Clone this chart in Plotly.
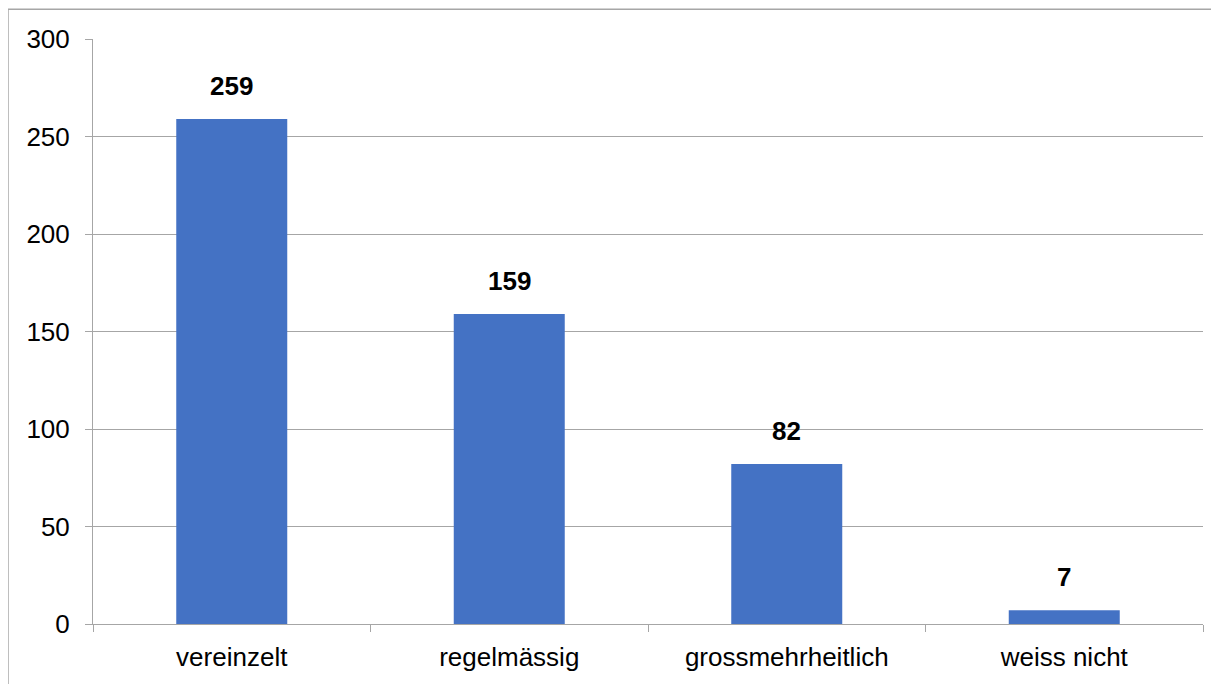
import plotly.graph_objects as go

categories = ["vereinzelt", "regelmässig", "grossmehrheitlich", "weiss nicht"]
values = [259, 159, 82, 7]
y_ticks = [0, 50, 100, 150, 200, 250, 300]

grey = "#a6a6a6"
font = "Liberation Sans, Arial, sans-serif"

fig = go.Figure()
fig.add_trace(go.Bar(x=categories, y=values, marker_color="#4472C4",
                     marker_line_width=0))

# value labels above the bars
for c, v in zip(categories, values):
    fig.add_annotation(x=c, y=v, text="<b>%d</b>" % v, showarrow=False,
                       yanchor="bottom", yshift=16,
                       font=dict(family=font, size=26, color="black"))

# outer frame of the chart area
fig.add_shape(type="rect", xref="paper", yref="paper",
              x0=-0.0766, x1=1.2, y0=-0.3, y1=1.051,
              line=dict(color=grey, width=1.5), layer="below")

# page body adds an 8px offset, so the figure is shrunk by that much
fig.update_layout(
    width=1211, height=676,
    margin=dict(l=85, r=16, t=31, b=57),
    plot_bgcolor="white", paper_bgcolor="white",
    bargap=0.6, showlegend=False,
    font=dict(family=font, size=26, color="black"),
)
fig.update_xaxes(type="category", showline=True, linecolor=grey, linewidth=1,
                 ticks="outside", tickson="boundaries", ticklen=7,
                 tickcolor=grey, showgrid=False, ticklabelstandoff=10)
fig.update_yaxes(range=[0, 300], tickvals=y_ticks, showline=True,
                 linecolor=grey, linewidth=1, ticks="outside", ticklen=7,
                 tickcolor=grey, showgrid=True, gridcolor=grey, gridwidth=1,
                 zeroline=False, ticklabelstandoff=10)

fig.write_html("out.html")
